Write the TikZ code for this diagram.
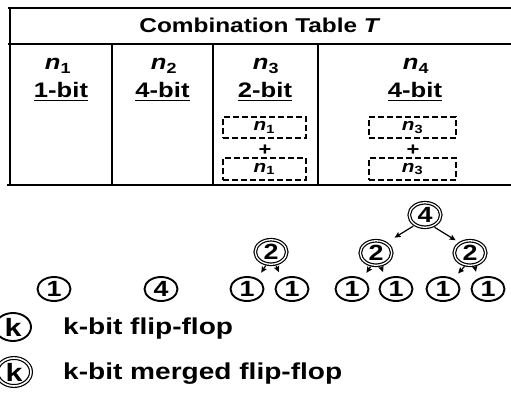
\documentclass[tikz,border=0pt]{standalone}
\usepackage{fontspec}
\setmainfont{Liberation Sans}[FakeStretch=1.22]
\usetikzlibrary{shapes.geometric,arrows.meta}
\newcommand\myfs[1]{\fontsize{#1}{#1}\selectfont\bfseries}
\begin{document}
\begin{tikzpicture}[x=1pt,y=-1pt,
  tline/.style={line width=2.2pt},
  vline/.style={line width=2.6pt},
  uline/.style={line width=1.5pt},
  lab/.style={inner sep=0pt, font=\myfs{21}},
  bitlab/.style={inner sep=0pt, anchor=base, font=\myfs{21}},
  dbox/.style={draw, dash pattern=on 6pt off 3pt, line width=1.6pt, minimum height=21pt, inner sep=0pt, font=\myfs{17}},
  plus/.style={inner sep=0pt, font=\myfs{18}},
  leaf/.style={ellipse, draw, line width=1.9pt, minimum width=33pt, minimum height=24pt, inner sep=0pt, font=\myfs{22}},
  merged/.style={ellipse, draw, double, double distance=1.3pt, line width=1.2pt, minimum width=31.5pt, minimum height=24.5pt, inner sep=0pt, font=\myfs{22}},
  arr/.style={-{Stealth[length=6pt,width=5.5pt,inset=1pt]}, line width=1.2pt},
  legtxt/.style={inner sep=0pt, anchor=base west, font=\myfs{23}},
]
\useasboundingbox (0,0) rectangle (511,393);
% table lines
\draw[tline] (8,8) -- (511,8);
\draw[tline] (8,44) -- (511,44);
\draw[tline] (7,185) -- (511,185);
\draw[vline] (10,7) -- (10,186);
\draw[vline] (112,44) -- (112,186);
\draw[vline] (213,44) -- (213,186);
\draw[vline] (318,44) -- (318,186);
% title
\node[lab, anchor=base, font=\myfs{20}] (title) at (260,33) {Combination Table \textit{T}};
% column heads
\node[lab, anchor=base] (n1) at (58,70) {\textit{n}\textsubscript{1}};
\node[lab, anchor=base] (n2) at (164,70) {\textit{n}\textsubscript{2}};
\node[lab, anchor=base] (n3) at (266,70) {\textit{n}\textsubscript{3}};
\node[lab, anchor=base] (n4) at (416,70) {\textit{n}\textsubscript{4}};
\node[bitlab] (b1) at (61,98) {1-bit};
\node[bitlab] (b2) at (162.5,98) {4-bit};
\node[bitlab] (b3) at (265,98) {2-bit};
\node[bitlab] (b4) at (415,98) {4-bit};
\foreach \b in {b1,b2,b3,b4}{
  \draw[uline] ([yshift=-2.5pt]\b.base west) -- ([yshift=-2.5pt]\b.base east);
}
% dashed boxes
\node[dbox, minimum width=83pt] (d31) at (264.3,127.5) {\textit{n}\textsubscript{1}};
\node[plus] (p3) at (265,150) {+};
\node[dbox, minimum width=83pt, minimum height=22pt] (d32) at (264.3,169) {\textit{n}\textsubscript{1}};
\node[dbox, minimum width=87pt] (d41) at (412.5,127.5) {\textit{n}\textsubscript{3}};
\node[plus] (p4) at (413,150) {+};
\node[dbox, minimum width=87pt, minimum height=22pt] (d42) at (412.5,169) {\textit{n}\textsubscript{3}};
% trees
\node[leaf] (a1) at (54,289) {1};
\node[leaf] (a2) at (161,289) {4};
\node[merged] (t2) at (271,252) {2};
\node[leaf] (t2l) at (247,289) {1};
\node[leaf] (t2r) at (292,289) {1};
\node[merged] (r4) at (425,215) {4};
\node[merged] (m2a) at (376,253) {2};
\node[merged] (m2b) at (470,253) {2};
\node[leaf] (la) at (352,289) {1};
\node[leaf] (lb) at (396,289) {1};
\node[leaf] (lc) at (443,289) {1};
\node[leaf] (ld) at (488,289) {1};
\draw[arr, shorten <=1.5pt, shorten >=7pt] (t2.250) -- (t2l.45);
\draw[arr, shorten <=1.5pt, shorten >=7pt] (t2.290) -- (t2r.135);
\draw[arr, shorten <=1.5pt, shorten >=7pt] (m2a.250) -- (la.45);
\draw[arr, shorten <=1.5pt, shorten >=7pt] (m2a.290) -- (lb.135);
\draw[arr, shorten <=1.5pt, shorten >=7pt] (m2b.250) -- (lc.45);
\draw[arr, shorten <=1.5pt, shorten >=7pt] (m2b.290) -- (ld.135);
\draw[arr, shorten <=2pt, shorten >=10pt] (r4.225) -- (m2a.45);
\draw[arr, shorten <=2pt, shorten >=5pt] (r4.305) -- (m2b.135);
% legend
\node[leaf, minimum width=36pt, minimum height=28pt, font=\myfs{25}] (k1) at (13,327) {k};
\node[legtxt] (k1t) at (63,334) {k-bit flip-flop};
\node[merged, minimum width=34pt, minimum height=28pt, double distance=1.6pt, line width=1.2pt, font=\myfs{25}] (k2) at (14,372) {k};
\node[legtxt] (k2t) at (63,379) {k-bit merged flip-flop};
\end{tikzpicture}
\end{document}
